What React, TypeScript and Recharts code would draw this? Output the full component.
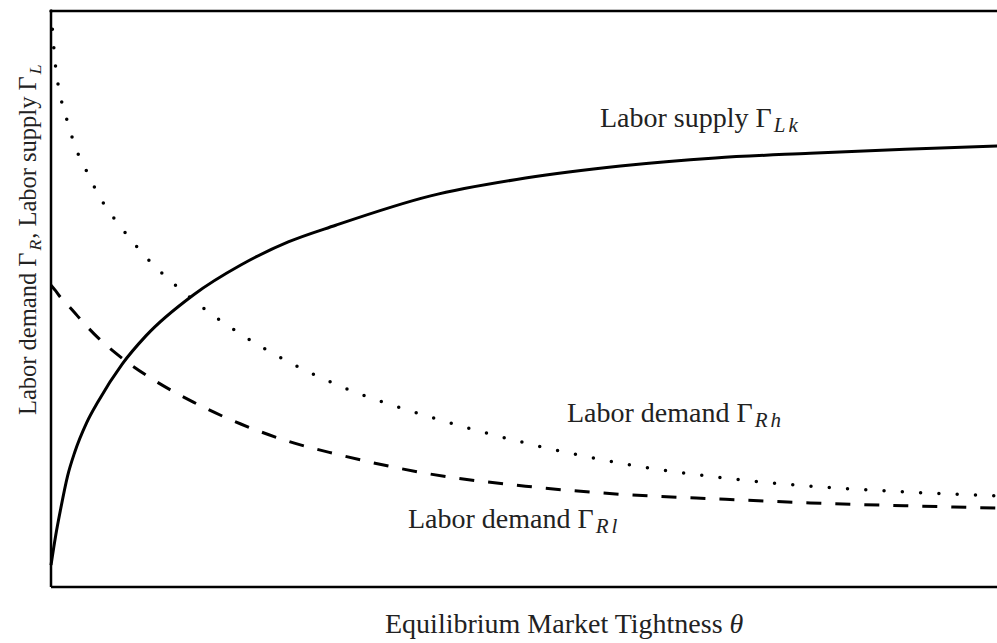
import React from 'react';
import { LineChart, Line, XAxis, YAxis, ReferenceLine, Customized } from 'recharts';

// market tightness grid (x) and the three curves
const theta = [0, 0.05, 0.1, 0.175, 0.25, 0.375, 0.5, 0.75, 1, 1.5, 2, 2.5, 3, 4, 5, 6, 7, 8, 9, 10];
const supplyLk = [0.38, 0.9, 1.34, 1.93, 2.34, 2.85, 3.23, 3.87, 4.36, 5.07, 5.59, 5.99, 6.28, 6.79, 7.1, 7.31, 7.45, 7.53, 7.6, 7.66];
const demandRh = [10, 9.01, 8.52, 8.07, 7.67, 7.22, 6.81, 6.22, 5.73, 4.98, 4.39, 3.91, 3.52, 2.95, 2.5, 2.15, 1.91, 1.75, 1.65, 1.58];
const demandRl = [5.24, 5.14, 5.03, 4.9, 4.76, 4.53, 4.32, 3.97, 3.68, 3.21, 2.83, 2.53, 2.31, 1.96, 1.75, 1.61, 1.53, 1.46, 1.41, 1.37];

const data = theta.map((t, i) => ({
  theta: t,
  supply: supplyLk[i],
  high: demandRh[i],
  low: demandRl[i],
}));

const FONT = '"Liberation Serif", "Times New Roman", serif';
const INK = '#222';

const Sub = ({ children, size = 21, gap = 3 }: { children: React.ReactNode; size?: number; gap?: number }) => (
  <tspan fontStyle="italic" fontSize={size} dx={2} dy={4.5} letterSpacing={gap}>
    {children}
  </tspan>
);

function Annotations() {
  return (
    <g fontFamily={FONT} fill={INK} fontSize={28}>
      <text x={600} y={127}>
        Labor supply Γ<Sub>Lk</Sub>
      </text>
      <text x={567} y={422}>
        Labor demand Γ<Sub>Rh</Sub>
      </text>
      <text x={408} y={528}>
        Labor demand Γ<Sub>Rl</Sub>
      </text>
      <text x={385} y={633}>
        Equilibrium Market Tightness <tspan fontStyle="italic">θ</tspan>
      </text>
      <text transform="rotate(-90)" x={-415} y={36} fontSize={24.5}>
        Labor demand Γ<Sub size={17.5} gap={1}>R</Sub>
        <tspan dy={-4.5}>, Labor supply Γ</tspan>
        <Sub size={17.5} gap={1}>L</Sub>
      </text>
    </g>
  );
}

export default function App() {
  return (
    <div style={{ position: 'absolute', left: 0, top: 0, width: 997, height: 643, overflow: 'hidden', background: '#fff' }}>
      <LineChart width={1002} height={643} data={data} margin={{ top: 11, right: 2, bottom: 56, left: 51 }}>
        <XAxis dataKey="theta" type="number" domain={[0, 10]} hide />
        <YAxis type="number" domain={[0, 10]} hide />
        <ReferenceLine x={0} stroke="#000" strokeWidth={2.5} />
        <ReferenceLine y={0} stroke="#000" strokeWidth={2.5} />
        <ReferenceLine y={10} stroke="#000" strokeWidth={2.5} />
        <ReferenceLine x={10} stroke="#000" strokeWidth={2.5} />
        <Line type="monotone" dataKey="supply" stroke="#000" strokeWidth={3} dot={false} isAnimationActive={false} />
        <Line
          type="monotone"
          dataKey="high"
          stroke="#000"
          strokeWidth={3.5}
          strokeLinecap="round"
          strokeDasharray="0 18.3"
          dot={false}
          isAnimationActive={false}
        />
        <Line
          type="monotone"
          dataKey="low"
          stroke="#000"
          strokeWidth={3}
          strokeDasharray="15 14"
          dot={false}
          isAnimationActive={false}
        />
        <Customized component={Annotations} />
      </LineChart>
    </div>
  );
}
